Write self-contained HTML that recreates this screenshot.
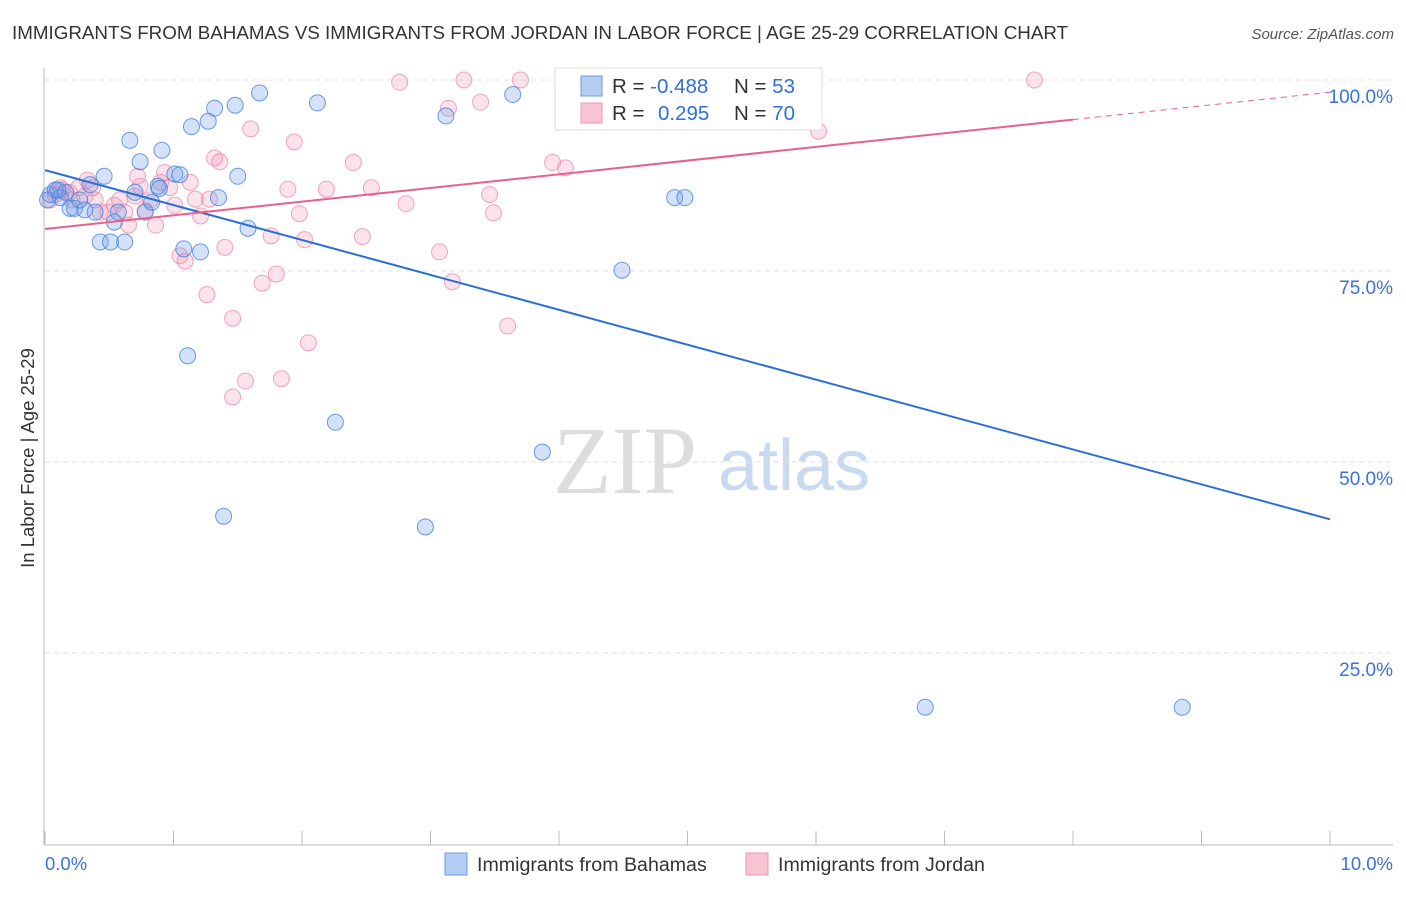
<!DOCTYPE html>
<html><head><meta charset="utf-8"><style>
body{margin:0;background:#fff;font-family:"Liberation Sans",sans-serif}
</style></head><body>
<svg id="c" width="1406" height="892" xmlns="http://www.w3.org/2000/svg" style="font-family:'Liberation Sans',sans-serif">
<text x="12" y="39" font-size="18.8" fill="#333">IMMIGRANTS FROM BAHAMAS VS IMMIGRANTS FROM JORDAN IN LABOR FORCE | AGE 25-29 CORRELATION CHART</text>
<text x="1394" y="39" font-size="15" fill="#555" font-style="italic" text-anchor="end">Source: ZipAtlas.com</text>
<text x="34" y="458" font-size="18.5" fill="#333" text-anchor="middle" transform="rotate(-90 34 458)">In Labor Force | Age 25-29</text>
<text x="553" y="493" font-size="96" fill="#ddd" font-family="Liberation Serif">ZIP</text>
<text x="718" y="490" font-size="72" fill="#c8d9f0">atlas</text>
<g id="grid"></g><g id="pts"></g><g id="lines"></g>
<g>
<rect x="555" y="68" width="267" height="62" fill="#fff" stroke="#ddd"/>
<rect x="581" y="76" width="21" height="20" fill="#b3cdf5" stroke="#6a9ae0"/>
<rect x="581" y="103" width="21" height="20" fill="#f9c3d3" stroke="#ea9ab5"/>
<text x="612" y="93" font-size="20.5" fill="#333">R = <tspan fill="#2f6fd8">-0.488</tspan></text>
<text x="734" y="93" font-size="20.5" fill="#333">N = <tspan fill="#2f6fd8">53</tspan></text>
<text x="612" y="120" font-size="20.5" fill="#333">R = <tspan fill="#2f6fd8" x="658">0.295</tspan></text>
<text x="734" y="120" font-size="20.5" fill="#333">N = <tspan fill="#2f6fd8">70</tspan></text>
</g>
<g>
<rect x="445" y="853" width="22" height="22" fill="#b3cdf5" stroke="#6a9ae0"/>
<text x="477" y="871" font-size="19.6" fill="#333">Immigrants from Bahamas</text>
<rect x="746" y="853" width="22" height="22" fill="#f9c3d3" stroke="#ea9ab5"/>
<text x="778" y="871" font-size="19.6" fill="#333">Immigrants from Jordan</text>
</g>
<text x="45" y="870" font-size="18.5" fill="#3a72d8">0.0%</text>
<text x="1393" y="870" font-size="18.5" fill="#3a72d8" text-anchor="end">10.0%</text>
</svg>
<script>
const yTicks=[100,75,50,25];
const yTickLabels=["100.0%","75.0%","50.0%","25.0%"];
const bahamasX=[0.04,0.08,0.12,0.16,0.195,0.23,0.31,0.35,0.39,0.43,0.46,0.51,0.54,0.57,0.62,0.66,0.70,0.74,0.78,0.83,0.88,0.91,1.01,1.05,1.08,1.11,1.14,1.21,1.27,1.32,1.35,1.39,1.48,1.50,1.58,1.67,2.12,2.26,2.96,3.12,3.64,3.87,4.34,4.49,4.90,4.98,5.20,6.85,8.85,0.02,0.27,0.89,0.10];
const bahamasY=[85.0,85.6,84.6,85.3,83.2,83.2,83.0,86.3,82.7,78.8,87.4,78.8,81.4,82.7,78.8,92.1,85.3,89.3,82.7,84.0,86.1,90.8,87.7,87.6,77.9,63.9,93.9,77.5,94.6,96.3,84.6,42.9,96.7,87.4,80.6,98.3,97.0,55.2,41.5,95.3,98.1,51.3,98.3,75.1,84.6,84.6,100,17.9,17.9,84.3,84.3,85.8,85.6];
const jordanX=[0.04,0.08,0.13,0.19,0.26,0.31,0.33,0.39,0.43,0.49,0.54,0.58,0.62,0.65,0.70,0.72,0.78,0.82,0.86,0.90,0.93,0.97,1.01,1.05,1.09,1.13,1.17,1.21,1.26,1.28,1.32,1.36,1.40,1.46,1.46,1.56,1.60,1.69,1.76,1.80,1.84,1.89,1.94,1.98,2.02,2.05,2.19,2.40,2.47,2.54,2.76,2.81,3.07,3.14,3.17,3.26,3.39,3.46,3.49,3.60,3.70,3.95,4.05,4.58,6.02,7.70,0.12,0.37,0.74,0.21];
const jordanY=[84.3,85.0,85.6,85.3,85.9,84.8,86.9,84.3,82.7,82.7,83.6,84.3,82.7,81.0,84.8,87.4,82.9,84.3,81.0,86.6,87.9,85.9,83.6,77.0,76.3,86.6,84.4,82.2,71.9,84.4,89.8,89.3,78.1,68.8,58.5,60.6,93.6,73.4,79.6,74.6,60.9,85.7,91.9,82.5,79.1,65.6,85.7,89.2,79.5,85.9,99.7,83.8,77.5,96.3,73.6,100,97.1,85.0,82.6,67.8,100,89.2,88.5,100,93.3,100,85.9,85.9,86.1,84.3];
const bahamasFit=[88.2,-4.57];
const jordanFit=[80.5,1.79];
const yMinPx=844,yPerPct=7.64,x0=45,xPerPct=128.5;
const X=v=>x0+v*xPerPct, Y=v=>yMinPx-v*yPerPct;
const NS="http://www.w3.org/2000/svg";
function mk(t,a,p){const e=document.createElementNS(NS,t);for(const k in a)e.setAttribute(k,a[k]);p.appendChild(e);return e;}
const grid=document.getElementById('grid');
yTicks.forEach((t,i)=>{
 const l=mk('line',{x1:45,x2:1393,y1:Y(t),y2:Y(t),stroke:'#e2e2e2','stroke-dasharray':'5,4'},grid);
 
 
 const tx=mk('text',{x:1393,y:Y(t)+23,'font-size':19,fill:'#3a72d8','text-anchor':'end'},grid);
 tx.textContent=yTickLabels[i];
 
 
});
const ax=mk('line',{x1:44,x2:44,y1:68,y2:845,stroke:'#bbb'},grid);


const bx=mk('line',{x1:44,x2:1393,y1:845,y2:845,stroke:'#bbb'},grid);


for(let i=0;i<=10;i++){const t=mk('line',{x1:X(i),x2:X(i),y1:831,y2:845,stroke:'#bbb'},grid);
 
 }
const pts=document.getElementById('pts');
function scatter(xs,ys,fill,stroke,name){xs.forEach((x,i)=>{const c=mk('circle',{cx:X(x),cy:Y(ys[i]),r:8,fill:fill,stroke:stroke,'stroke-width':1},pts);
 
 });}
scatter(jordanX,jordanY,'rgba(244,150,180,0.28)','rgba(232,130,165,0.7)','jordan-point');
scatter(bahamasX,bahamasY,'rgba(110,160,235,0.3)','rgba(70,130,220,0.8)','bahamas-point');
const lines=document.getElementById('lines');
const bf=bahamasFit, jf=jordanFit;
let l1=mk('line',{x1:X(0),y1:Y(bf[0]),x2:X(10),y2:Y(bf[0]+bf[1]*10),stroke:'#2a6fd6','stroke-width':2},lines);


let l2=mk('line',{x1:X(0),y1:Y(jf[0]),x2:X(8),y2:Y(jf[0]+jf[1]*8),stroke:'#e8608c','stroke-width':2},lines);


let l3=mk('line',{x1:X(8),y1:Y(jf[0]+jf[1]*8),x2:X(10),y2:Y(jf[0]+jf[1]*10),stroke:'#e8608c','stroke-width':1,'stroke-dasharray':'6,5'},lines);


</script>
</body></html>
